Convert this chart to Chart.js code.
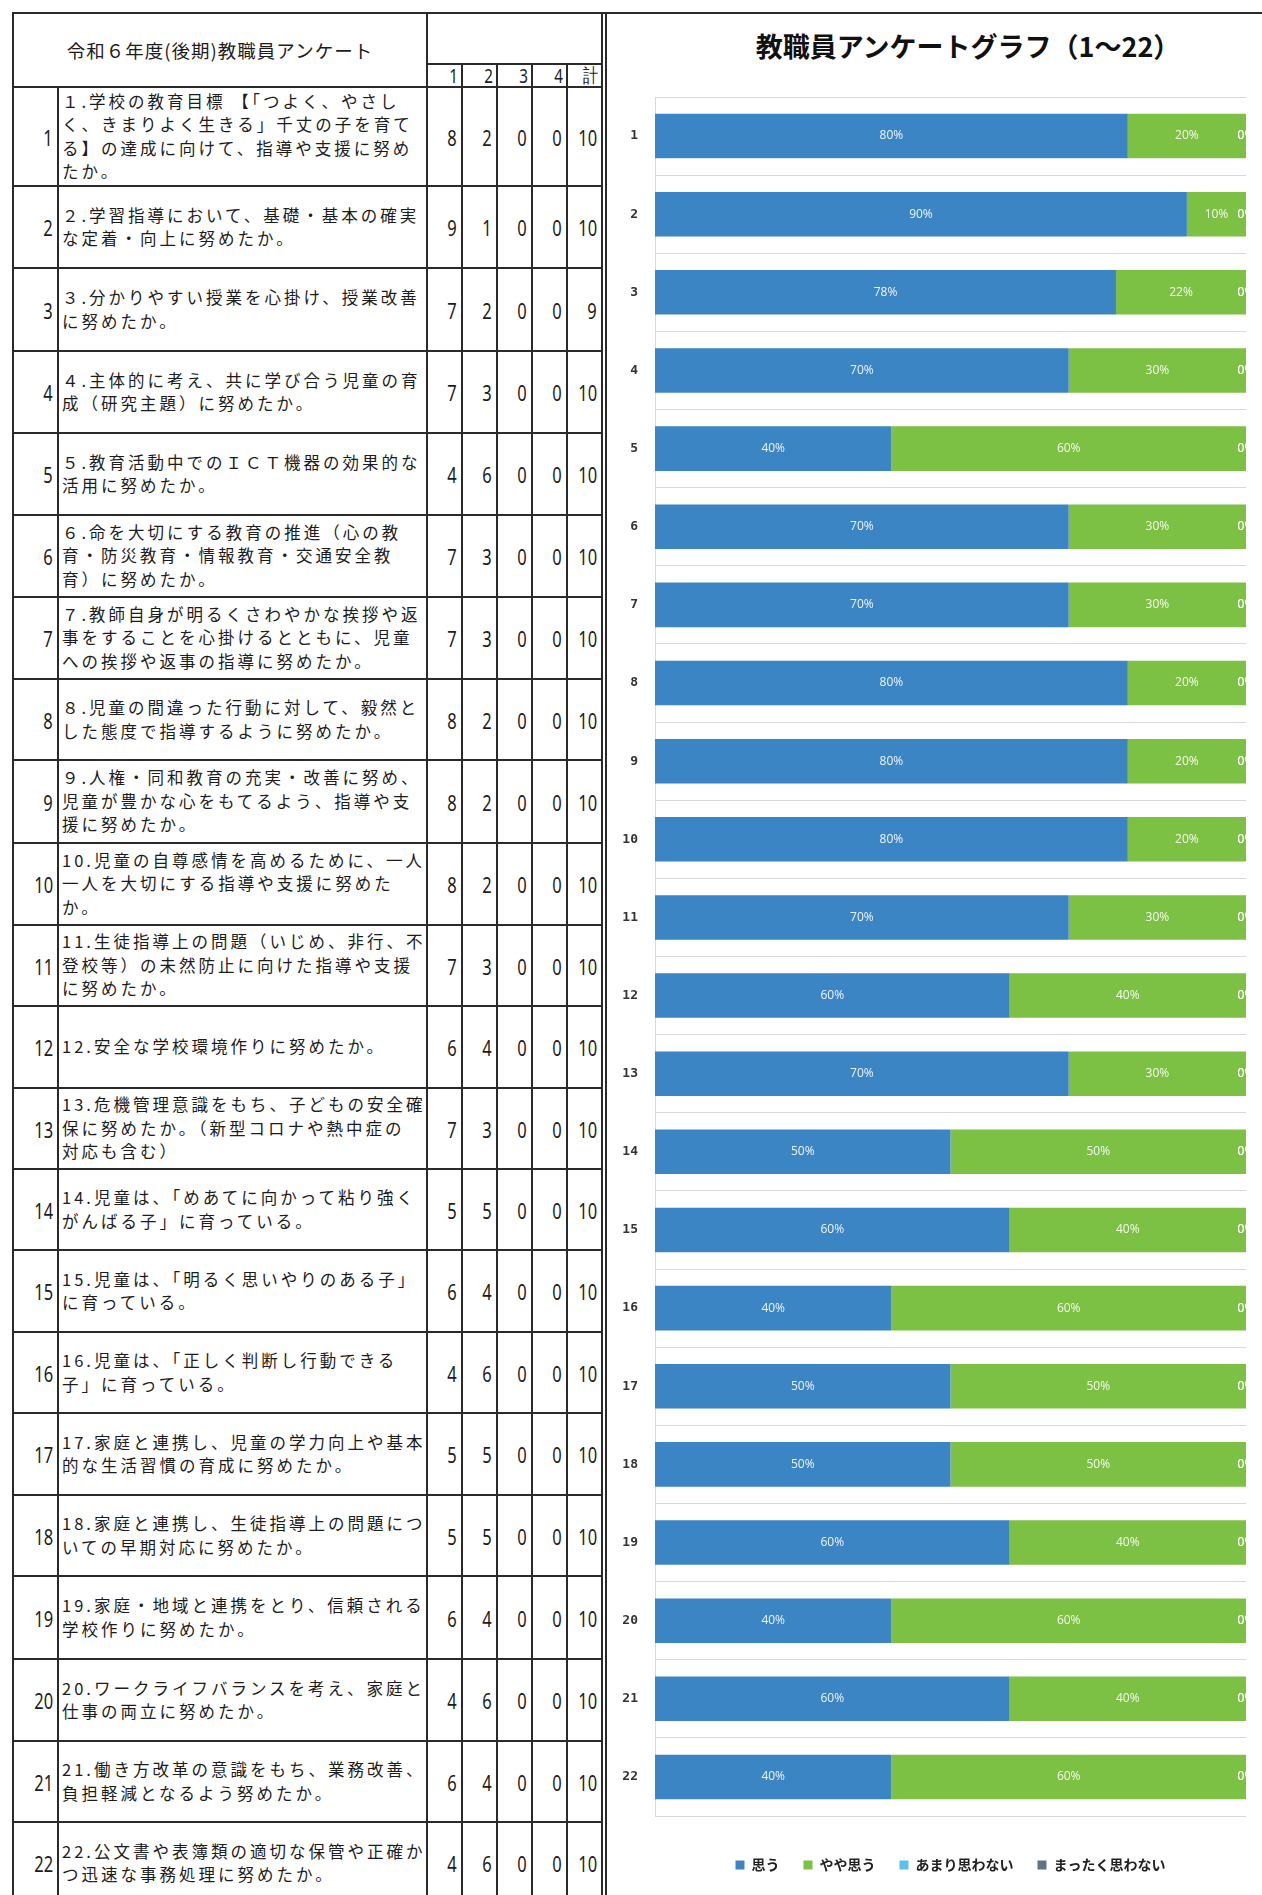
<!DOCTYPE html>
<html lang="ja">
<head>
<meta charset="utf-8">
<title>令和６年度(後期)教職員アンケート</title>
<script src="https://cdn.jsdelivr.net/npm/chart.js@4.4.1/dist/chart.umd.min.js"></script>
<style>
  html, body { margin: 0; padding: 0; background: #fff; }
  body { width: 1262px; height: 1895px; position: relative; overflow: hidden;
         font-family: "Noto Sans CJK JP", sans-serif; color: #1c1c1c; }
  .ln { position: absolute; background: #2a2a2a; }
  .cell { position: absolute; display: flex; align-items: center; box-sizing: border-box; }
  .q { font-size: 16.5px; letter-spacing: 3px; line-height: 23.5px; white-space: nowrap; padding-left: 4px; }
  .num { justify-content: flex-end; padding-right: 5px; }
  .num span { display: inline-block; font-family: "Noto Sans", sans-serif; font-size: 22px;
              transform: scaleX(0.75); transform-origin: right center; }
  .head { justify-content: center; font-size: 18.5px; letter-spacing: 1px; }
  .sub { justify-content: flex-end; padding-right: 4px; }
  .sub span { display: inline-block; font-family: "Noto Sans", sans-serif; font-size: 19px;
              transform: scaleX(0.8); transform-origin: right center; }
  #chartTitle { position: absolute; left: 718px; width: 500px; top: 29px; text-align: center;
                font-size: 27px; font-weight: bold; line-height: 34px; color: #111; white-space: nowrap; }
  #chart { position: absolute; left: 600px; top: 60px; }
</style>
</head>
<body>
<div id="sheet"></div>
<div id="chartTitle">教職員アンケートグラフ（1～22）</div>
<canvas id="chart" width="648" height="1835"></canvas>
<script>
// survey items (one entry per table row, split as printed)
const questions = [
  ['１.学校の教育目標 【「つよく、やさし', 'く、きまりよく生きる」千丈の子を育て', 'る】の達成に向けて、指導や支援に努め', 'たか。'],
  ['２.学習指導において、基礎・基本の確実', 'な定着・向上に努めたか。'],
  ['３.分かりやすい授業を心掛け、授業改善', 'に努めたか。'],
  ['４.主体的に考え、共に学び合う児童の育', '成（研究主題）に努めたか。'],
  ['５.教育活動中でのＩＣＴ機器の効果的な', '活用に努めたか。'],
  ['６.命を大切にする教育の推進（心の教', '育・防災教育・情報教育・交通安全教', '育）に努めたか。'],
  ['７.教師自身が明るくさわやかな挨拶や返', '事をすることを心掛けるとともに、児童', 'への挨拶や返事の指導に努めたか。'],
  ['８.児童の間違った行動に対して、毅然と', 'した態度で指導するように努めたか。'],
  ['９.人権・同和教育の充実・改善に努め、', '児童が豊かな心をもてるよう、指導や支', '援に努めたか。'],
  ['10.児童の自尊感情を高めるために、一人', '一人を大切にする指導や支援に努めた', 'か。'],
  ['11.生徒指導上の問題（いじめ、非行、不', '登校等）の未然防止に向けた指導や支援', 'に努めたか。'],
  ['12.安全な学校環境作りに努めたか。'],
  ['13.危機管理意識をもち、子どもの安全確', '保に努めたか。（新型コロナや熱中症の', '対応も含む）'],
  ['14.児童は、「めあてに向かって粘り強く', 'がんばる子」に育っている。'],
  ['15.児童は、「明るく思いやりのある子」', 'に育っている。'],
  ['16.児童は、「正しく判断し行動できる', '子」に育っている。'],
  ['17.家庭と連携し、児童の学力向上や基本', '的な生活習慣の育成に努めたか。'],
  ['18.家庭と連携し、生徒指導上の問題につ', 'いての早期対応に努めたか。'],
  ['19.家庭・地域と連携をとり、信頼される', '学校作りに努めたか。'],
  ['20.ワークライフバランスを考え、家庭と', '仕事の両立に努めたか。'],
  ['21.働き方改革の意識をもち、業務改善、', '負担軽減となるよう努めたか。'],
  ['22.公文書や表簿類の適切な保管や正確か', 'つ迅速な事務処理に努めたか。']
];

// table counts: 1 思う / 2 やや思う / 3 あまり思わない / 4 まったく思わない / 計
const count1 = [8, 9, 7, 7, 4, 7, 7, 8, 8, 8, 7, 6, 7, 5, 6, 4, 5, 5, 6, 4, 6, 4];
const count2 = [2, 1, 2, 3, 6, 3, 3, 2, 2, 2, 3, 4, 3, 5, 4, 6, 5, 5, 4, 6, 4, 6];
const count3 = [0, 0, 0, 0, 0, 0, 0, 0, 0, 0, 0, 0, 0, 0, 0, 0, 0, 0, 0, 0, 0, 0];
const count4 = [0, 0, 0, 0, 0, 0, 0, 0, 0, 0, 0, 0, 0, 0, 0, 0, 0, 0, 0, 0, 0, 0];
const countTotal = [10, 10, 9, 10, 10, 10, 10, 10, 10, 10, 10, 10, 10, 10, 10, 10, 10, 10, 10, 10, 10, 10];
const countHeads = ['1', '2', '3', '4', '計'];

// chart values (percent)
const itemLabels = ['1', '2', '3', '4', '5', '6', '7', '8', '9', '10', '11',
  '12', '13', '14', '15', '16', '17', '18', '19', '20', '21', '22'];
const seriesNames = ['思う', 'やや思う', 'あまり思わない', 'まったく思わない'];
const pctAgree = [80, 90, 78, 70, 40, 70, 70, 80, 80, 80, 70, 60, 70, 50, 60, 40, 50, 50, 60, 40, 60, 40];
const pctSomewhat = [20, 10, 22, 30, 60, 30, 30, 20, 20, 20, 30, 40, 30, 50, 40, 60, 50, 50, 40, 60, 40, 60];
const pctNotMuch = [0, 0, 0, 0, 0, 0, 0, 0, 0, 0, 0, 0, 0, 0, 0, 0, 0, 0, 0, 0, 0, 0];
const pctNotAtAll = [0, 0, 0, 0, 0, 0, 0, 0, 0, 0, 0, 0, 0, 0, 0, 0, 0, 0, 0, 0, 0, 0];
const seriesColors = ['#3c85c4', '#7cc143', '#5bc1ea', '#5c7287'];

// ---- table drawing ----
const sheet = document.getElementById('sheet');
const colX = [13, 58, 427, 462, 497, 532, 567, 602];
const rowY = [87, 186, 268, 351, 433, 515, 597, 679, 760, 843, 925, 1006, 1088,
  1169, 1250, 1332, 1413, 1495, 1576, 1659, 1741, 1822, 1904];
const LW = 1.6;

const addLine = (x, y, w, h) => {
  const d = document.createElement('div');
  d.className = 'ln';
  Object.assign(d.style, { left: x + 'px', top: y + 'px', width: w + 'px', height: h + 'px' });
  sheet.appendChild(d);
};
const hLine = (x1, x2, y) => addLine(x1 - LW / 2, y - LW / 2, x2 - x1 + LW, LW);
const vLine = (x, y1, y2) => addLine(x - LW / 2, y1 - LW / 2, LW, y2 - y1 + LW);

const addCell = (cls, x1, x2, y1, y2, html) => {
  const d = document.createElement('div');
  d.className = 'cell ' + cls;
  Object.assign(d.style, { left: x1 + 'px', top: y1 + 'px', width: (x2 - x1) + 'px', height: (y2 - y1) + 'px' });
  d.innerHTML = html;
  sheet.appendChild(d);
};

hLine(13, 1262, 13);
hLine(427, 602, 64);
rowY.forEach((y) => hLine(13, 602, y));
vLine(13, 13, 1900);
vLine(58, 87, 1900);
vLine(427, 13, 1900);
[462, 497, 532, 567].forEach((x) => vLine(x, 64, 1900));
vLine(602, 13, 1900);
vLine(606, 13, 1900);

addCell('head', 13, 427, 13, 87, '令和６年度(後期)教職員アンケート');
countHeads.forEach((t, i) => addCell('sub', colX[i + 2], colX[i + 3], 64, 87, `<span>${t}</span>`));

questions.forEach((lines, i) => {
  const y1 = rowY[i], y2 = rowY[i + 1];
  const vals = [count1[i], count2[i], count3[i], count4[i], countTotal[i]];
  addCell('num', colX[0], colX[1], y1, y2, `<span>${i + 1}</span>`);
  addCell('q', colX[1], colX[2], y1, y2, `<div>${lines.join('<br>')}</div>`);
  vals.forEach((v, c) => addCell('num', colX[c + 2], colX[c + 3], y1, y2, `<span>${v}</span>`));
});

// ---- chart ----
const barLabels = {
  id: 'barLabels',
  afterDatasetsDraw(chart) {
    const { ctx } = chart;
    ctx.save();
    ctx.font = '12px "Open Sans", "Liberation Sans", sans-serif';
    ctx.fillStyle = 'rgba(255,255,255,0.92)';
    ctx.textAlign = 'center';
    ctx.textBaseline = 'middle';
    chart.data.datasets.forEach((ds, i) => {
      chart.getDatasetMeta(i).data.forEach((bar, j) => {
        const { x, y, base } = bar.getProps(['x', 'y', 'base'], true);
        ctx.fillText(`${ds.data[j]}%`, (x + base) / 2, y);
      });
    });
    ctx.restore();
  },
};

const seriesData = [pctAgree, pctSomewhat, pctNotMuch, pctNotAtAll];

new Chart(document.getElementById('chart').getContext('2d'), {
  type: 'bar',
  data: {
    labels: itemLabels,
    datasets: seriesNames.map((name, i) => ({
      label: name,
      data: seriesData[i],
      backgroundColor: seriesColors[i],
      borderWidth: 0,
      categoryPercentage: 1,
      barPercentage: 0.57,
    })),
  },
  options: {
    indexAxis: 'y',
    responsive: false,
    animation: false,
    devicePixelRatio: 1,
    layout: { padding: { left: 0, right: 2, top: 37, bottom: 13 } },
    scales: {
      x: {
        stacked: true, min: 0, max: 100,
        ticks: { display: false },
        grid: { display: false },
        border: { display: false },
        afterFit: (s) => { s.height = 18; },
      },
      y: {
        stacked: true,
        grid: { color: '#d9d9d9', drawTicks: false },
        border: { color: '#d9d9d9' },
        ticks: { padding: 17, color: '#333', font: { family: 'DejaVu Sans Mono', size: 13, weight: 'bold' } },
        afterFit: (s) => { s.width = 55; },
      },
    },
    plugins: {
      legend: {
        position: 'bottom',
        fullSize: false,
        labels: {
          boxWidth: 9, boxHeight: 9, padding: 24, color: '#222',
          font: { family: 'Noto Sans CJK JP', size: 14, weight: 'bold' },
        },
      },
      tooltip: { enabled: false },
    },
  },
  plugins: [barLabels],
});
</script>
</body>
</html>
